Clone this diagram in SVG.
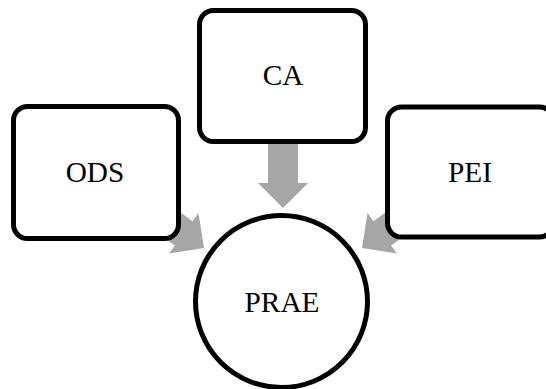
<svg xmlns="http://www.w3.org/2000/svg" width="546" height="389" viewBox="0 0 546 389">
<style>
.box{fill:#fff;stroke:#000;stroke-width:5}
.arr{fill:#a6a6a6;stroke:none}
.lbl{font-family:"Liberation Serif","Times New Roman",serif;font-size:29.3px;fill:#000;text-anchor:middle}
</style>
<defs>
<polygon id="arrowShape" points="-70,-15 -25,-15 -25,-25 0,0 -25,25 -25,15 -70,15"/>
</defs>
<rect width="546" height="389" fill="#fff"/>
<g id="connectors">
<use href="#arrowShape" class="arr" transform="translate(283,208) rotate(90)"/>
<use href="#arrowShape" class="arr" transform="translate(204,248) rotate(36)"/>
<use href="#arrowShape" class="arr" transform="translate(362,248) rotate(144)"/>
</g>
<g id="node-CA">
<rect class="box" x="199.5" y="10.5" width="166" height="131" rx="14"/>
<text class="lbl" x="283" y="85">CA</text>
</g>
<g id="node-ODS">
<rect class="box" x="13.5" y="106.5" width="165" height="132" rx="14"/>
<text class="lbl" x="95" y="182">ODS</text>
</g>
<g id="node-PEI">
<rect class="box" x="387.5" y="107" width="166" height="130" rx="14"/>
<text class="lbl" x="470" y="182">PEI</text>
</g>
<g id="node-PRAE">
<circle class="box" cx="281.5" cy="301.5" r="86"/>
<text class="lbl" x="282" y="312">PRAE</text>
</g>
</svg>
